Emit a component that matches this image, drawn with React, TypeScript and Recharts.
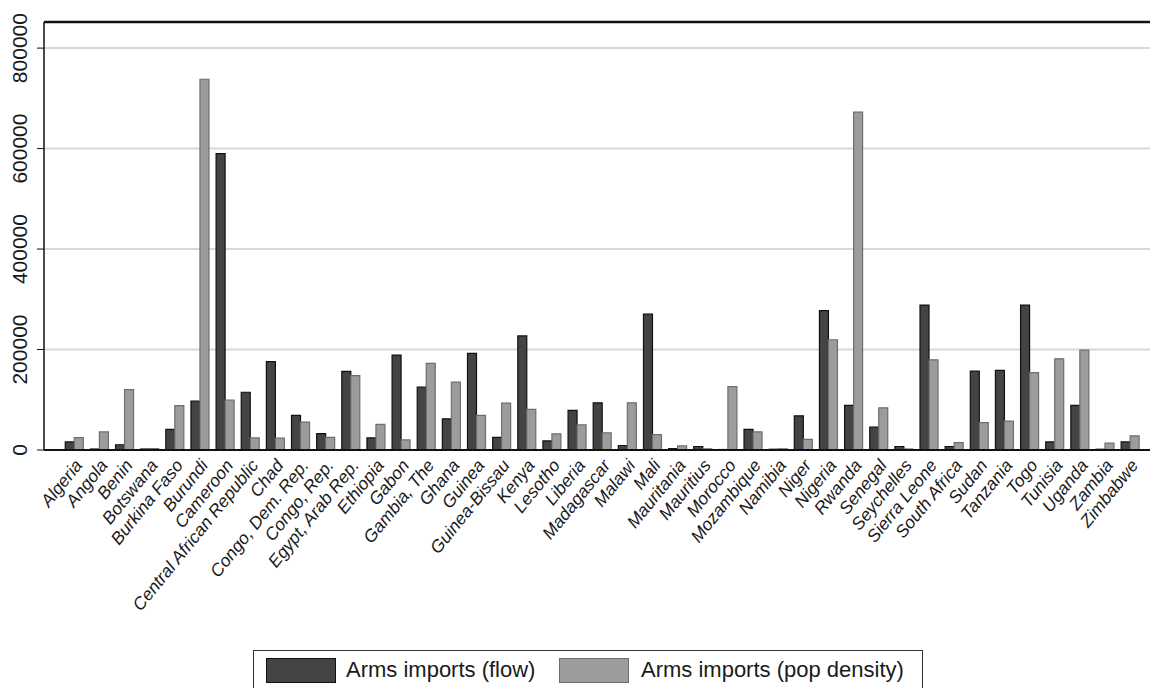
import React from "react";
import {
  BarChart,
  Bar,
  XAxis,
  YAxis,
  CartesianGrid,
  ReferenceLine,
} from "recharts";

const countries = [
  "Algeria", "Angola", "Benin", "Botswana", "Burkina Faso", "Burundi", "Cameroon",
  "Central African Republic", "Chad", "Congo, Dem. Rep.", "Congo, Rep.", "Egypt, Arab Rep.",
  "Ethiopia", "Gabon", "Gambia, The", "Ghana", "Guinea", "Guinea-Bissau", "Kenya", "Lesotho",
  "Liberia", "Madagascar", "Malawi", "Mali", "Mauritania", "Mauritius", "Morocco", "Mozambique",
  "Namibia", "Niger", "Nigeria", "Rwanda", "Senegal", "Seychelles", "Sierra Leone",
  "South Africa", "Sudan", "Tanzania", "Togo", "Tunisia", "Uganda", "Zambia", "Zimbabwe",
];

const flow = [
  16000, 2000, 10500, 2000, 41000, 97500, 590000, 115000, 176000, 69000, 32500, 156500,
  24000, 189000, 125000, 62000, 192500, 25000, 227000, 18000, 79000, 94000, 9000, 270500,
  3000, 7000, 1000, 41000, 1500, 68000, 277500, 89000, 45500, 7000, 288500, 7000, 157000,
  158500, 288500, 16000, 89000, 1500, 16000,
];

const popDensity = [
  24500, 36000, 120000, 3000, 88500, 738000, 99500, 24000, 23500, 55500, 25000, 148000,
  51000, 20000, 172500, 135000, 69000, 93500, 81000, 32000, 50000, 34000, 94000, 30500,
  8500, 2500, 126000, 36000, 2500, 21000, 219500, 672500, 84000, 2000, 179500, 14500, 54500,
  57500, 154000, 181500, 199000, 13500, 28000,
];

const yTicks = [0, 200000, 400000, 600000, 800000];
const yMax = 852000;

const data = countries.map((c, i) => ({ country: c, flow: flow[i], pop: popDensity[i] }));

const FONT = "'Liberation Sans', Arial, sans-serif";

const YTick = (props: any) => {
  const { y, payload } = props;
  return (
    <text
      x={0}
      y={0}
      transform={`translate(19, ${y}) rotate(-90)`}
      textAnchor="middle"
      dominantBaseline="central"
      fontSize={21}
      fontFamily={FONT}
      fill="#1a1a1a"
    >
      {payload.value}
    </text>
  );
};

const XTick = (props: any) => {
  const { x, payload } = props;
  return (
    <text
      x={0}
      y={0}
      transform={`translate(${x + 4}, 462) rotate(-51)`}
      textAnchor="end"
      dominantBaseline="central"
      fontSize={17.5}
      fontStyle="italic"
      fontFamily={FONT}
      fill="#1a1a1a"
    >
      {payload.value}
    </text>
  );
};

export default function App() {
  return (
    <div style={{ position: "relative", margin: "-8px 0 0 -8px", width: 1175, height: 688, background: "#fff" }}>
      <BarChart
        width={1175}
        height={688}
        data={data}
        margin={{ top: 22, right: 14, left: 0, bottom: 0 }}
        barCategoryGap="13%"
        barGap={0}
      >
        <CartesianGrid horizontal vertical={false} stroke="#d8d8d8" strokeWidth={2} />
        <XAxis
          dataKey="country"
          interval={0}
          height={238}
          padding={{ left: 18, right: 18 }}
          tickLine={false}
          axisLine={{ stroke: "#111", strokeWidth: 2 }}
          tick={<XTick />}
        />
        <YAxis
          width={44}
          domain={[0, yMax]}
          ticks={yTicks}
          tickSize={7}
          tickLine={{ stroke: "#111" }}
          axisLine={{ stroke: "#111", strokeWidth: 1.5 }}
          tick={<YTick />}
        />
        <ReferenceLine y={yMax} stroke="#111" strokeWidth={2.5} />
        <Bar dataKey="flow" fill="#444444" stroke="#111111" strokeWidth={1.2} isAnimationActive={false} />
        <Bar dataKey="pop" fill="#9c9c9c" stroke="#6e6e6e" strokeWidth={1.2} isAnimationActive={false} />
      </BarChart>
      <div
        style={{
          position: "absolute",
          left: 253,
          top: 650,
          width: 670,
          height: 50,
          border: "1.5px solid #333",
          boxSizing: "border-box",
          fontFamily: FONT,
          fontSize: 22,
          color: "#1a1a1a",
        }}
      >
        <div style={{ position: "absolute", left: 12, top: 7, width: 70, height: 25, background: "#444", border: "1.5px solid #111", boxSizing: "border-box" }} />
        <span style={{ position: "absolute", left: 92, top: 6, lineHeight: "26px", whiteSpace: "nowrap" }}>Arms imports (flow)</span>
        <div style={{ position: "absolute", left: 305, top: 7, width: 70, height: 25, background: "#9c9c9c", border: "1.5px solid #6e6e6e", boxSizing: "border-box" }} />
        <span style={{ position: "absolute", left: 387, top: 6, lineHeight: "26px", whiteSpace: "nowrap" }}>Arms imports (pop density)</span>
      </div>
    </div>
  );
}
